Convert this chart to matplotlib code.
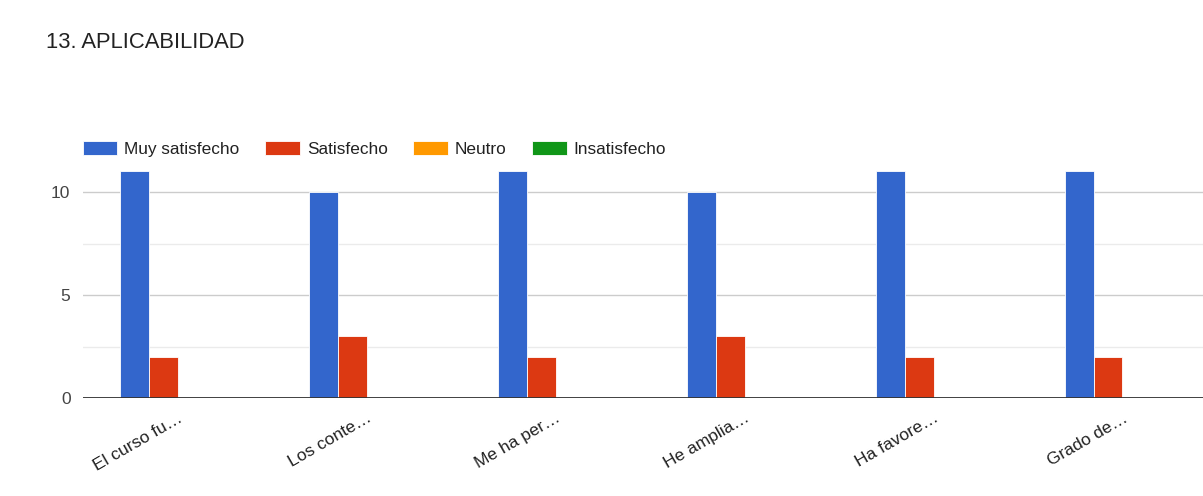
import matplotlib.pyplot as plt
import numpy as np

# survey data: "13. APLICABILIDAD"
categories = ["El curso fu…", "Los conte…", "Me ha per…", "He amplia…", "Ha favore…", "Grado de…"]
series_names = ["Muy satisfecho", "Satisfecho", "Neutro", "Insatisfecho"]
muy_satisfecho = [11, 10, 11, 10, 11, 11]
satisfecho = [2, 3, 2, 3, 2, 2]
neutro = [0, 0, 0, 0, 0, 0]
insatisfecho = [0, 0, 0, 0, 0, 0]
colors = ["#3366cc", "#dc3912", "#ff9900", "#109618"]

plt.rcParams["font.family"] = ["Liberation Sans", "DejaVu Sans"]

W, H = 1203, 496
fig = plt.figure(figsize=(W / 100, H / 100), dpi=100)

# plot area runs past the right edge, like the screenshot
ymax = 12
px_per_unit = 20.6
ax = fig.add_axes([83 / W, (H - 398) / H, (1217 - 83) / W, ymax * px_per_unit / H])

x = np.arange(len(categories))
w = 0.153
all_series = [muy_satisfecho, satisfecho, neutro, insatisfecho]
handles = []
for i, (vals, name, c) in enumerate(zip(all_series, series_names, colors)):
    b = ax.bar(x + (i - 1.5) * w, vals, width=w, color=c, edgecolor="white",
               linewidth=0.6, label=name, zorder=3)
    handles.append(b)

ax.set_xlim(-0.5, len(categories) - 0.5)
ax.set_ylim(0, ymax)
ax.set_yticks([0, 5, 10])
ax.set_yticks([2.5, 7.5], minor=True)
ax.grid(axis="y", which="major", color="#cccccc", linewidth=1.0, zorder=0)
ax.grid(axis="y", which="minor", color="#ebebeb", linewidth=1.0, zorder=0)
ax.axhline(0, color="#333333", linewidth=1.3, zorder=4)

for s in ax.spines.values():
    s.set_visible(False)
ax.tick_params(axis="both", which="both", length=0, labelsize=12.5, colors="#444444")
ax.tick_params(axis="y", pad=9)
ax.tick_params(axis="x", pad=9)
ax.set_xticks(x)
ax.set_xticklabels(categories, rotation=30, ha="right", rotation_mode="anchor", color="#222222")

fig.text(46 / W, 1 - 42 / H, "13. APLICABILIDAD", fontsize=15.8, color="#222222", va="center")

fig.legend(handles=handles, labels=series_names, loc="center left",
           bbox_to_anchor=(83 / W, 1 - 149 / H), ncol=4, frameon=False,
           fontsize=12.4, handlelength=2.0, handleheight=0.9, handletextpad=0.4,
           columnspacing=1.5, borderpad=0, borderaxespad=0, labelcolor="#222222")

fig.savefig("out.png", dpi=100)
